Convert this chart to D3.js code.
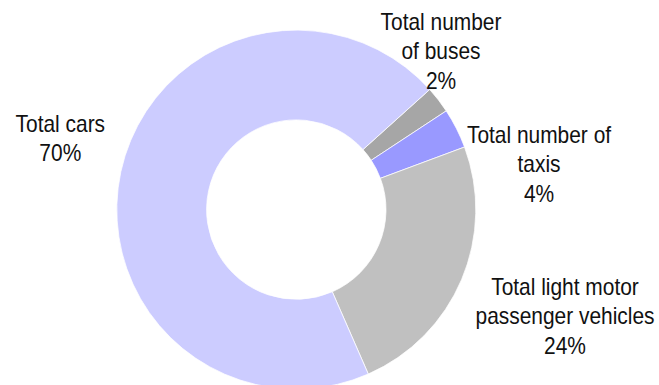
<!DOCTYPE html>
<html>
<head>
<meta charset="utf-8">
<script src="https://cdn.jsdelivr.net/npm/d3@7"></script>
<style>
  body { margin: 0; background: #fff; }
  text { font-family: "Liberation Sans", Arial, sans-serif; fill: #111; }
</style>
</head>
<body>
<div id="chart"></div>
<script>
// data, in drawing order (clockwise from the upper right)
var categories = ['Total number of buses', 'Total number of taxis', 'Total light motor passenger vehicles', 'Total cars'];
var values = [2.4, 3.6, 24.1, 69.9];
var percentLabels = ['2%', '4%', '24%', '70%'];
var labelLines = [
  ['Total number', 'of buses'],
  ['Total number of', 'taxis'],
  ['Total light motor', 'passenger vehicles'],
  ['Total cars']
];
var colors = ['#a6a6a6', '#9999ff', '#c0c0c0', '#ccccff'];

var width = 659,
  height = 385,
  cx = 296.3,
  cy = 209.6,
  outerRadius = 179.5,
  innerRadius = 89.7,
  startAngle = 48 * Math.PI / 180,
  fontSize = 23,
  lineHeight = 29.5,
  squeeze = 0.91;

// label anchor: centre x and baseline of the first line
var labelPos = [
  { x: 441, y: 30 },
  { x: 539, y: 142.7 },
  { x: 565, y: 295 },
  { x: 60.3, y: 131.7 }
];

var svg = d3.select('#chart').append('svg')
  .attr('width', width)
  .attr('height', height);

var pie = d3.pie()
  .sort(null)
  .startAngle(startAngle)
  .endAngle(startAngle + 2 * Math.PI)
  .value(function (d) { return d; });

var arc = d3.arc()
  .innerRadius(innerRadius)
  .outerRadius(outerRadius);

var g = svg.append('g')
  .attr('transform', 'translate(' + cx + ',' + cy + ')');

g.selectAll('path')
    .data(pie(values))
  .enter().append('path')
    .attr('d', arc)
    .attr('fill', function (d, i) { return colors[i]; })
    .attr('stroke', '#ffffff')
    .attr('stroke-width', 0.75);

// labels
var labels = svg.append('g').selectAll('g')
    .data(categories)
  .enter().append('g')
    .attr('transform', function (d, i) {
      return 'translate(' + labelPos[i].x + ',' + labelPos[i].y + ') scale(' + squeeze + ',1)';
    });

labels.append('text')
  .attr('text-anchor', 'middle')
  .style('font-size', fontSize + 'px')
  .each(function (d, i) {
    var t = d3.select(this);
    var lines = labelLines[i].concat([percentLabels[i]]);
    lines.forEach(function (line, j) {
      t.append('tspan')
        .attr('x', 0)
        .attr('y', j * lineHeight)
        .text(line);
    });
  });
</script>
</body>
</html>
